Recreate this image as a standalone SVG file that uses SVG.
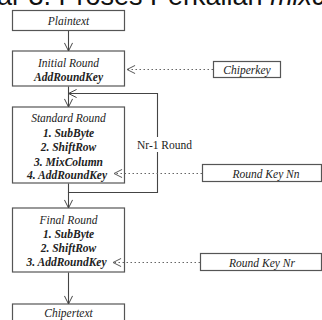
<svg xmlns="http://www.w3.org/2000/svg" width="322" height="320" viewBox="0 0 322 320">
<style>
.box{fill:#fff;stroke:#555;stroke-width:1.2}
.t{font-family:"Liberation Serif",serif;font-size:11.5px;font-style:italic;fill:#222;text-anchor:middle}
.b{font-weight:bold}
.ln{fill:none;stroke:#444;stroke-width:1.1}
.dot{fill:none;stroke:#666;stroke-width:1;stroke-dasharray:1.5 2.5}
.title{font-family:"Liberation Sans",Arial,sans-serif;font-size:27px;fill:#111}
.lbl{font-family:"Liberation Serif",serif;font-size:11.5px;fill:#222}
</style>
<defs>
<marker id="v" viewBox="0 0 10 10" refX="10" refY="5" markerWidth="9" markerHeight="9" markerUnits="userSpaceOnUse" orient="auto">
<path d="M1,0.5 L10,5 L1,9.5" fill="none" stroke="#444" stroke-width="1.1"/>
</marker>
<marker id="vd" viewBox="0 0 10 10" refX="10" refY="5" markerWidth="9" markerHeight="9" markerUnits="userSpaceOnUse" orient="auto">
<path d="M1,0.5 L10,5 L1,9.5" fill="none" stroke="#555" stroke-width="1.1"/>
</marker>
</defs>
<text class="title" x="-3" y="5">ar 3. Proses Perkalian <tspan font-style="italic">mixc</tspan></text>
<g id="plaintext">
<rect class="box" x="12.5" y="10.5" width="112" height="20"/>
<text class="t" x="68.5" y="25">Plaintext</text>
</g>
<g id="initial">
<rect class="box" x="12.5" y="51" width="112" height="35"/>
<text class="t" x="68.5" y="67">Initial Round</text>
<text class="t b" x="68.5" y="80.5">AddRoundKey</text>
</g>
<g id="chiperkey">
<rect class="box" x="213.5" y="61.5" width="67" height="16"/>
<text class="t" x="247" y="73.5">Chiperkey</text>
</g>
<g id="standard">
<rect class="box" x="12.5" y="107" width="112" height="76"/>
<text class="t" x="68.5" y="122">Standard Round</text>
<text class="t b" x="68.5" y="136.5">1. SubByte</text>
<text class="t b" x="68.5" y="151">2. ShiftRow</text>
<text class="t b" x="68.5" y="165.5">3. MixColumn</text>
<text class="t b" x="67" y="179">4. AddRoundKey</text>
</g>
<g id="roundkeynn">
<rect class="box" x="202.5" y="164.5" width="119" height="17"/>
<text class="t" x="266" y="177.5">Round Key Nn</text>
</g>
<g id="final">
<rect class="box" x="12.5" y="208" width="112" height="64"/>
<text class="t" x="68.5" y="223.5">Final Round</text>
<text class="t b" x="68.5" y="238">1. SubByte</text>
<text class="t b" x="68.5" y="252">2. ShiftRow</text>
<text class="t b" x="66.5" y="266">3. AddRoundKey</text>
</g>
<g id="roundkeynr">
<rect class="box" x="200.5" y="253.5" width="121" height="17"/>
<text class="t" x="262" y="266.5">Round Key Nr</text>
</g>
<g id="chipertext">
<rect class="box" x="12.5" y="304" width="112" height="22"/>
<text class="t" x="68.5" y="317">Chipertext</text>
</g>
<g id="connectors">
<line class="ln" x1="68.5" y1="31" x2="68.5" y2="51" marker-end="url(#v)"/>
<line class="ln" x1="68.5" y1="86.5" x2="68.5" y2="107" marker-end="url(#v)"/>
<polyline class="ln" points="68.5,183.5 68.5,192.5 157.5,192.5 157.5,93.5 68.5,93.5" marker-end="url(#v)"/>
<line class="ln" x1="68.5" y1="192" x2="68.5" y2="208" marker-end="url(#v)"/>
<line class="ln" x1="68.5" y1="272.5" x2="68.5" y2="304" marker-end="url(#v)"/>
<line class="dot" x1="213" y1="69.5" x2="127" y2="69.5" marker-end="url(#vd)"/>
<line class="dot" x1="202" y1="173.5" x2="114" y2="173.5" marker-end="url(#vd)"/>
<line class="dot" x1="200" y1="262.5" x2="113" y2="262.5" marker-end="url(#vd)"/>
<rect x="136" y="137" width="56" height="15" fill="#fff"/>
<text class="lbl" x="137" y="149">Nr-1 Round</text>
</g>
</svg>
